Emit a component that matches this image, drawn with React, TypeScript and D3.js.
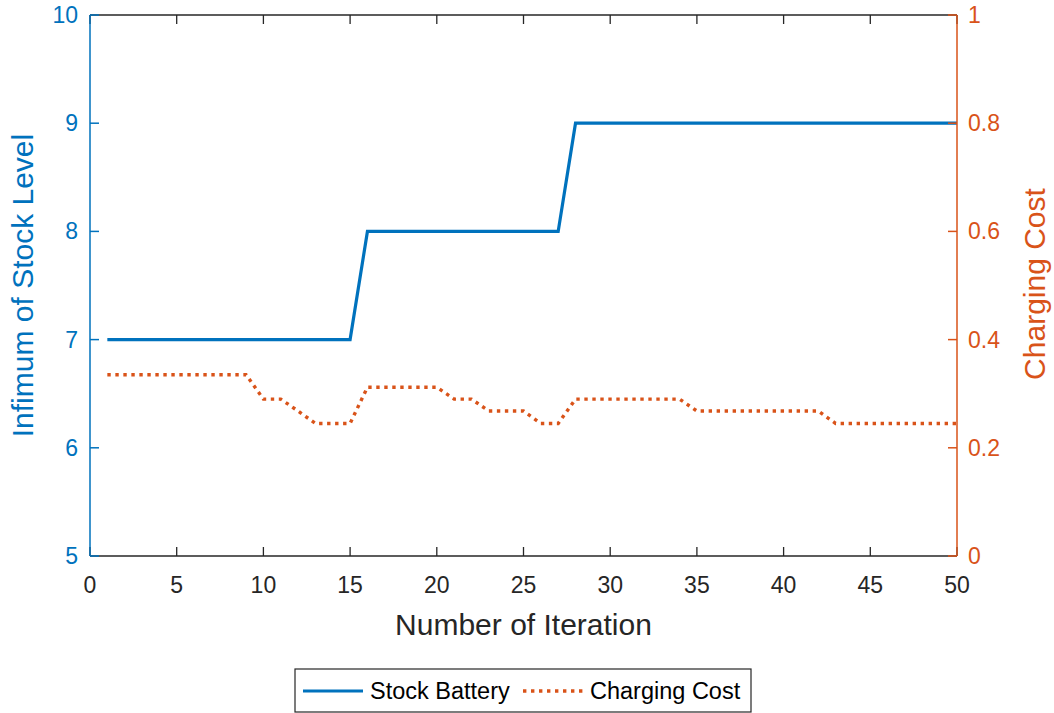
import React, { useRef, useEffect } from "react";
import * as d3 from "d3";

// iteration index for every sample
const iterations = Array.from({ length: 50 }, (_, i) => i + 1);

// Stock Battery (left axis)
const stockBattery = [
  7, 7, 7, 7, 7, 7, 7, 7, 7, 7, 7, 7, 7, 7, 7,
  8, 8, 8, 8, 8, 8, 8, 8, 8, 8, 8, 8,
  9, 9, 9, 9, 9, 9, 9, 9, 9, 9, 9, 9, 9, 9, 9, 9, 9, 9, 9, 9, 9, 9, 9,
];

// Charging Cost (right axis)
const chargingCost = [
  0.335, 0.335, 0.335, 0.335, 0.335, 0.335, 0.335, 0.335, 0.335,
  0.29, 0.29, 0.268, 0.245, 0.245, 0.245,
  0.312, 0.312, 0.312, 0.312, 0.312,
  0.29, 0.29, 0.268, 0.268, 0.268, 0.245, 0.245,
  0.29, 0.29, 0.29, 0.29, 0.29, 0.29, 0.29,
  0.268, 0.268, 0.268, 0.268, 0.268, 0.268, 0.268, 0.268,
  0.245, 0.245, 0.245, 0.245, 0.245, 0.245, 0.245, 0.245,
];

const xTicks = [0, 5, 10, 15, 20, 25, 30, 35, 40, 45, 50];
const leftTicks = [5, 6, 7, 8, 9, 10];
const rightTicks = [0, 0.2, 0.4, 0.6, 0.8, 1];

const BLUE = "#0072BD";
const ORANGE = "#D95319";
const DARK = "#262626";

const App = () => {
  const svgRef = useRef<SVGSVGElement>(null);

  useEffect(() => {
    const svg = d3.select(svgRef.current);
    svg.selectAll("*").remove();

    const width = 1054;
    const height = 713;
    const margin = { top: 15, right: 97, bottom: 157, left: 90 };
    const x0 = margin.left;
    const x1 = width - margin.right;
    const y0 = height - margin.bottom;
    const y1 = margin.top;
    const font = "'Liberation Sans', Arial, Helvetica, sans-serif";
    const tickLen = 9;

    const x = d3.scaleLinear().domain([0, 50]).range([x0, x1]);
    const yLeft = d3.scaleLinear().domain([5, 10]).range([y0, y1]);
    const yRight = d3.scaleLinear().domain([0, 1]).range([y0, y1]);

    svg.append("rect").attr("width", width).attr("height", height).attr("fill", "white");

    // lines
    const stockLine = d3
      .line<number>()
      .x((_, i) => x(iterations[i]))
      .y((d) => yLeft(d));

    svg
      .append("path")
      .datum(stockBattery)
      .attr("fill", "none")
      .attr("stroke", BLUE)
      .attr("stroke-width", 3.2)
      .attr("d", stockLine);

    const costLine = d3
      .line<number>()
      .x((_, i) => x(iterations[i]))
      .y((d) => yRight(d));

    svg
      .append("path")
      .datum(chargingCost)
      .attr("fill", "none")
      .attr("stroke", ORANGE)
      .attr("stroke-width", 3.4)
      .attr("stroke-dasharray", "3.4 4.6")
      .attr("d", costLine);

    // bottom / top frame with x ticks
    const frame = svg.append("g");
    frame.append("line").attr("x1", x0).attr("x2", x1).attr("y1", y0).attr("y2", y0)
      .attr("stroke", DARK).attr("stroke-width", 1.3);
    frame.append("line").attr("x1", x0).attr("x2", x1).attr("y1", y1).attr("y2", y1)
      .attr("stroke", DARK).attr("stroke-width", 1.3);

    xTicks.forEach((t) => {
      frame.append("line").attr("x1", x(t)).attr("x2", x(t)).attr("y1", y0).attr("y2", y0 - tickLen)
        .attr("stroke", DARK).attr("stroke-width", 1.3);
      frame.append("line").attr("x1", x(t)).attr("x2", x(t)).attr("y1", y1).attr("y2", y1 + tickLen)
        .attr("stroke", DARK).attr("stroke-width", 1.3);
      frame.append("text").attr("x", x(t)).attr("y", y0 + 37)
        .attr("text-anchor", "middle").attr("fill", DARK)
        .style("font-family", font).style("font-size", "23px").text(t);
    });

    // left axis
    const left = svg.append("g");
    left.append("line").attr("x1", x0).attr("x2", x0).attr("y1", y0).attr("y2", y1)
      .attr("stroke", BLUE).attr("stroke-width", 1.5);
    leftTicks.forEach((t) => {
      left.append("line").attr("x1", x0).attr("x2", x0 + tickLen).attr("y1", yLeft(t)).attr("y2", yLeft(t))
        .attr("stroke", BLUE).attr("stroke-width", 1.5);
      left.append("text").attr("x", x0 - 12).attr("y", yLeft(t) + 8)
        .attr("text-anchor", "end").attr("fill", BLUE)
        .style("font-family", font).style("font-size", "23px").text(t);
    });
    left.append("text")
      .attr("transform", `translate(33,${(y0 + y1) / 2}) rotate(-90)`)
      .attr("text-anchor", "middle").attr("fill", BLUE)
      .style("font-family", font).style("font-size", "30px")
      .text("Infimum of Stock Level");

    // right axis
    const right = svg.append("g");
    right.append("line").attr("x1", x1).attr("x2", x1).attr("y1", y0).attr("y2", y1)
      .attr("stroke", ORANGE).attr("stroke-width", 1.5);
    rightTicks.forEach((t) => {
      right.append("line").attr("x1", x1).attr("x2", x1 - tickLen).attr("y1", yRight(t)).attr("y2", yRight(t))
        .attr("stroke", ORANGE).attr("stroke-width", 1.5);
      right.append("text").attr("x", x1 + 11).attr("y", yRight(t) + 8)
        .attr("text-anchor", "start").attr("fill", ORANGE)
        .style("font-family", font).style("font-size", "23px").text(String(t));
    });
    right.append("text")
      .attr("transform", `translate(1045,284) rotate(-90)`)
      .attr("text-anchor", "middle").attr("fill", ORANGE)
      .style("font-family", font).style("font-size", "30px")
      .text("Charging Cost");

    // x label
    svg.append("text").attr("x", (x0 + x1) / 2).attr("y", 635)
      .attr("text-anchor", "middle").attr("fill", DARK)
      .style("font-family", font).style("font-size", "30px")
      .text("Number of Iteration");

    // legend
    const legend = svg.append("g").attr("transform", "translate(295,669)");
    legend.append("rect").attr("x", 0).attr("y", 0).attr("width", 456).attr("height", 43)
      .attr("fill", "white").attr("stroke", DARK).attr("stroke-width", 1.2);
    legend.append("line").attr("x1", 8).attr("x2", 68).attr("y1", 22).attr("y2", 22)
      .attr("stroke", BLUE).attr("stroke-width", 3.2);
    legend.append("text").attr("x", 75).attr("y", 30).attr("fill", "black")
      .style("font-family", font).style("font-size", "23.5px").text("Stock Battery");
    legend.append("line").attr("x1", 228).attr("x2", 288).attr("y1", 22).attr("y2", 22)
      .attr("stroke", ORANGE).attr("stroke-width", 3.4).attr("stroke-dasharray", "3.4 4.6");
    legend.append("text").attr("x", 295).attr("y", 30).attr("fill", "black")
      .style("font-family", font).style("font-size", "23.5px").text("Charging Cost");
  }, []);

  return (
    <svg
      ref={svgRef}
      width={1054}
      height={713}
      style={{ position: "absolute", left: 0, top: 0 }}
    ></svg>
  );
};

export default App;
